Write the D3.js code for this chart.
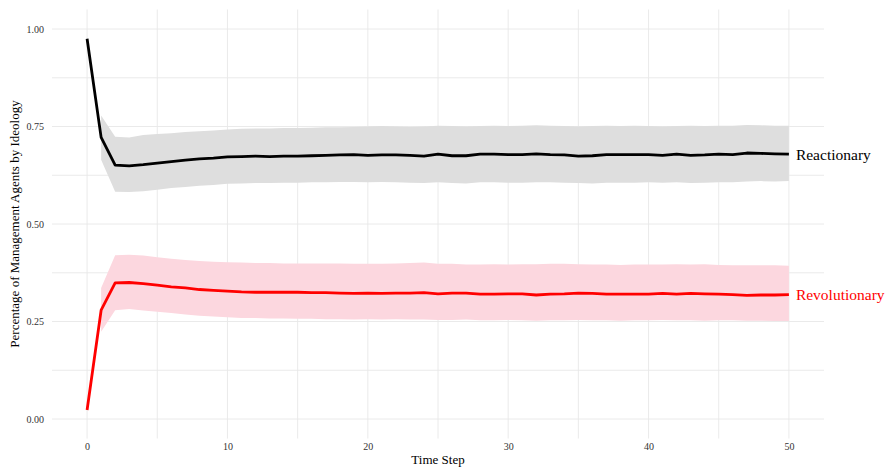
<!DOCTYPE html>
<html>
<head>
<meta charset="utf-8">
<script src="https://cdn.jsdelivr.net/npm/d3@7"></script>
<style>
  body { margin: 0; background: #fff; }
  svg { display: block; font-family: "Liberation Serif", "DejaVu Serif", serif; }
</style>
</head>
<body>
<svg id="chart" width="894" height="467"></svg>
<script>
const timeSteps = d3.range(0, 51);

const reactMean = [0.975, 0.722, 0.651, 0.649, 0.652, 0.656, 0.660, 0.664, 0.667, 0.669, 0.672, 0.673, 0.674, 0.673, 0.674, 0.674, 0.675, 0.676, 0.677, 0.678, 0.676, 0.677, 0.677, 0.676, 0.674, 0.679, 0.675, 0.675, 0.679, 0.679, 0.678, 0.678, 0.680, 0.678, 0.677, 0.674, 0.675, 0.678, 0.678, 0.678, 0.678, 0.676, 0.679, 0.676, 0.677, 0.679, 0.678, 0.682, 0.681, 0.680, 0.679];
const reactUpper = [null, 0.778, 0.724, 0.722, 0.728, 0.731, 0.733, 0.736, 0.738, 0.740, 0.742, 0.744, 0.745, 0.745, 0.746, 0.746, 0.747, 0.748, 0.748, 0.749, 0.750, 0.751, 0.750, 0.749, 0.750, 0.752, 0.751, 0.750, 0.751, 0.752, 0.751, 0.752, 0.753, 0.752, 0.751, 0.750, 0.751, 0.752, 0.751, 0.752, 0.751, 0.750, 0.751, 0.752, 0.751, 0.752, 0.752, 0.754, 0.753, 0.752, 0.752];
const reactLower = [null, 0.665, 0.583, 0.582, 0.584, 0.588, 0.592, 0.595, 0.598, 0.600, 0.603, 0.604, 0.605, 0.605, 0.606, 0.606, 0.607, 0.607, 0.608, 0.608, 0.607, 0.608, 0.607, 0.606, 0.605, 0.607, 0.605, 0.604, 0.607, 0.607, 0.606, 0.606, 0.607, 0.607, 0.606, 0.605, 0.604, 0.606, 0.606, 0.606, 0.607, 0.606, 0.607, 0.605, 0.606, 0.607, 0.607, 0.609, 0.610, 0.609, 0.610];

const revMean = [0.023, 0.279, 0.349, 0.350, 0.347, 0.343, 0.339, 0.336, 0.332, 0.330, 0.328, 0.326, 0.325, 0.325, 0.325, 0.325, 0.324, 0.324, 0.323, 0.322, 0.323, 0.322, 0.323, 0.323, 0.324, 0.321, 0.323, 0.323, 0.320, 0.320, 0.321, 0.321, 0.318, 0.320, 0.321, 0.323, 0.322, 0.320, 0.320, 0.320, 0.320, 0.322, 0.320, 0.322, 0.321, 0.320, 0.319, 0.317, 0.318, 0.318, 0.319];
const revUpper = [null, 0.336, 0.420, 0.421, 0.419, 0.415, 0.411, 0.408, 0.405, 0.403, 0.402, 0.401, 0.400, 0.400, 0.399, 0.399, 0.399, 0.399, 0.399, 0.398, 0.398, 0.398, 0.399, 0.400, 0.401, 0.398, 0.398, 0.396, 0.396, 0.397, 0.396, 0.397, 0.397, 0.398, 0.398, 0.397, 0.396, 0.396, 0.395, 0.396, 0.396, 0.396, 0.397, 0.396, 0.397, 0.395, 0.394, 0.394, 0.394, 0.394, 0.393];
const revLower = [null, 0.224, 0.279, 0.282, 0.278, 0.275, 0.272, 0.268, 0.265, 0.263, 0.261, 0.259, 0.259, 0.258, 0.258, 0.257, 0.257, 0.256, 0.256, 0.255, 0.256, 0.255, 0.256, 0.255, 0.255, 0.254, 0.254, 0.255, 0.253, 0.253, 0.254, 0.253, 0.252, 0.253, 0.253, 0.254, 0.253, 0.253, 0.252, 0.253, 0.253, 0.254, 0.253, 0.253, 0.252, 0.253, 0.253, 0.252, 0.252, 0.251, 0.251];

const xTicks = [0, 10, 20, 30, 40, 50];
const xMinor = [5, 15, 25, 35, 45];
const yTicks = [0, 0.25, 0.5, 0.75, 1];
const yMinor = [0.125, 0.375, 0.625, 0.875];

const series = [
  { name: "Reactionary", mean: reactMean, upper: reactUpper, lower: reactLower, line: "#000000", fill: "#dedede", labelColor: "#000000" },
  { name: "Revolutionary", mean: revMean, upper: revUpper, lower: revLower, line: "#ff0000", fill: "#fcd7df", labelColor: "#ff0000" }
];

const svg = d3.select("#chart");

// panel extents (ggplot-like 5% expansion)
const x = d3.scaleLinear().domain([-2.5, 52.5]).range([52, 824]);
const y = d3.scaleLinear().domain([-0.05, 1.05]).range([438.5, 9.5]);

// Grid
const grid = svg.append("g");
grid.selectAll("line.vx")
  .data(xTicks.concat(xMinor))
  .enter().append("line")
  .attr("x1", d => x(d)).attr("x2", d => x(d))
  .attr("y1", y.range()[1]).attr("y2", y.range()[0])
  .attr("stroke", "#e8e8e8").attr("stroke-width", 0.9);
grid.selectAll("line.hy")
  .data(yTicks.concat(yMinor))
  .enter().append("line")
  .attr("x1", x.range()[0]).attr("x2", x.range()[1])
  .attr("y1", d => y(d)).attr("y2", d => y(d))
  .attr("stroke", "#e8e8e8").attr("stroke-width", 0.9);

// Ribbons and lines
const area = d3.area()
  .defined(d => d.lo != null)
  .x(d => x(d.t))
  .y0(d => y(d.lo))
  .y1(d => y(d.hi));
const line = d3.line()
  .x(d => x(d.t))
  .y(d => y(d.v));

series.forEach(s => {
  const rows = timeSteps.map((t, i) => ({ t: t, v: s.mean[i], lo: s.lower[i], hi: s.upper[i] }));
  svg.append("path")
    .datum(rows)
    .attr("d", area)
    .attr("fill", s.fill);
});
series.forEach(s => {
  const rows = timeSteps.map((t, i) => ({ t: t, v: s.mean[i] }));
  svg.append("path")
    .datum(rows)
    .attr("d", line)
    .attr("fill", "none")
    .attr("stroke", s.line)
    .attr("stroke-width", 2.8)
    .attr("stroke-linejoin", "round");

  // end label
  svg.append("text")
    .attr("x", x(50) + 7)
    .attr("y", y(s.mean[s.mean.length - 1]))
    .attr("dy", "0.35em")
    .attr("fill", s.labelColor)
    .attr("font-size", 15.5)
    .text(s.name);
});

// Axes (tick labels only, like theme_minimal)
const xAxis = svg.append("g")
  .attr("transform", `translate(0,${y.range()[0]})`)
  .call(d3.axisBottom(x).tickValues(xTicks).tickSize(0).tickPadding(4).tickFormat(d3.format("d")));
xAxis.select(".domain").remove();
xAxis.selectAll("text").attr("font-size", 10).attr("fill", "#333333").style("font-family", "Liberation Serif, serif");

const yAxis = svg.append("g")
  .attr("transform", `translate(${x.range()[0]},0)`)
  .call(d3.axisLeft(y).tickValues(yTicks).tickSize(0).tickPadding(8).tickFormat(d3.format(".2f")));
yAxis.select(".domain").remove();
yAxis.selectAll("text").attr("font-size", 10).attr("fill", "#333333").style("font-family", "Liberation Serif, serif");

// Axis titles
svg.append("text")
  .attr("x", (x.range()[0] + x.range()[1]) / 2)
  .attr("y", 464)
  .attr("text-anchor", "middle")
  .attr("font-size", 13)
  .text("Time Step");

svg.append("text")
  .attr("transform", `translate(19,${(y.range()[0] + y.range()[1]) / 2}) rotate(-90)`)
  .attr("text-anchor", "middle")
  .attr("font-size", 13)
  .text("Percentage of Management Agents by Ideology");
</script>
</body>
</html>
